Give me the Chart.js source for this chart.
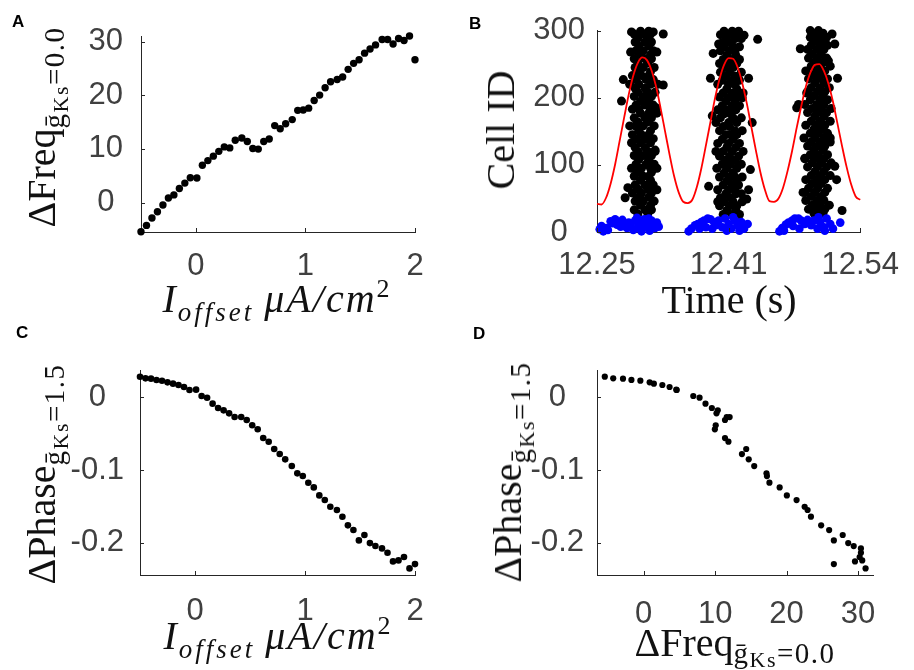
<!DOCTYPE html>
<html>
<head>
<meta charset="utf-8">
<script src="https://cdn.jsdelivr.net/npm/chart.js@4.4.1/dist/chart.umd.min.js"></script>
<style>
  body { margin: 0; background: #fff; }
  #fig { position: relative; width: 914px; height: 670px; overflow: hidden; }
  #fig canvas { position: absolute; }
  .lbl { position: absolute; font-family: 'Liberation Sans', Arial, sans-serif; font-weight: bold;
         font-size: 17px; line-height: 17px; color: #000; }
  .ttl { position: absolute; font-family: 'Liberation Serif', serif; font-size: 40px; line-height: 40px;
         color: #111; white-space: nowrap; }
  .vt { transform: translate(-50%, -50%) rotate(-90deg); }
  .ht { transform: translateX(-50%); }
  .sb { font-size: 29px; position: relative; top: 9px; letter-spacing: 1.5px; }
  .ssb { font-size: 22px; position: relative; top: 4px; }
  .it { font-style: italic; letter-spacing: 2px; }
  .sbi { font-style: italic; font-size: 27px; position: relative; top: 9px; letter-spacing: 3px; }
  .sup { font-size: 26px; position: relative; top: -15px; }
</style>
</head>
<body>
<div id="fig">
  <canvas id="chartA" width="457" height="335" style="left:0;top:0"></canvas>
  <canvas id="chartB" width="457" height="335" style="left:457px;top:0"></canvas>
  <canvas id="chartC" width="457" height="335" style="left:0;top:335px"></canvas>
  <canvas id="chartD" width="457" height="335" style="left:457px;top:335px"></canvas>

  <div class="lbl" style="left:12px;top:13px">A</div>
  <div class="lbl" style="left:469px;top:15px">B</div>
  <div class="lbl" style="left:16px;top:324px">C</div>
  <div class="lbl" style="left:473px;top:325px">D</div>

  <div class="ttl vt" style="left:45px;top:127px">&Delta;Freq<span class="sb">&#x1E21;<span class="ssb">Ks</span>=0.0</span></div>
  <div class="ttl ht" style="left:276px;top:279px"><span class="it">I</span><span class="sbi">offset</span>&nbsp;<span class="it">&mu;A/cm</span><span class="sup">2</span></div>

  <div class="ttl vt" style="left:501px;top:130px">Cell ID</div>
  <div class="ttl ht" style="left:729px;top:280px">Time (s)</div>

  <div class="ttl vt" style="left:45px;top:474px">&Delta;Phase<span class="sb">&#x1E21;<span class="ssb">Ks</span>=1.5</span></div>
  <div class="ttl ht" style="left:277px;top:616px"><span class="it">I</span><span class="sbi">offset</span>&nbsp;<span class="it">&mu;A/cm</span><span class="sup">2</span></div>

  <div class="ttl vt" style="left:511px;top:472px">&Delta;Phase<span class="sb">&#x1E21;<span class="ssb">Ks</span>=1.5</span></div>
  <div class="ttl ht" style="left:735px;top:623px">&Delta;Freq<span class="sb" style="top:7px">&#x1E21;<span class="ssb">Ks</span>=0.0</span></div>
</div>

<script>
// offset current (uA/cm2) shared by panels A and C
const currentOffset = [-0.50, -0.45, -0.40, -0.35, -0.30, -0.25, -0.20, -0.15, -0.10, -0.05,
  0.01, 0.06, 0.11, 0.16, 0.21, 0.26, 0.31, 0.36, 0.42, 0.47,
  0.52, 0.57, 0.62, 0.67, 0.72, 0.77, 0.82, 0.88, 0.93, 0.98,
  1.03, 1.08, 1.13, 1.18, 1.23, 1.29, 1.34, 1.39, 1.44, 1.49,
  1.54, 1.59, 1.64, 1.70, 1.75, 1.80, 1.85, 1.90, 1.95, 2.00];

// panel A: frequency change
const deltaFreq = [-5.45, -4.27, -2.90, -1.72, -0.47, 0.83, 1.42, 2.61, 3.62, 4.62,
  4.56, 6.94, 7.82, 8.65, 9.54, 10.37, 10.19, 11.62, 12.03, 11.38,
  10.08, 9.96, 11.38, 11.86, 14.35, 13.75, 14.70, 15.47, 17.19, 17.25,
  17.60, 19.03, 20.04, 21.40, 22.53, 22.94, 23.41, 24.84, 25.96, 26.62,
  27.86, 28.63, 29.40, 30.41, 30.41, 29.58, 30.59, 30.23, 31.06, 26.62];

// panel C: phase change
const deltaPhase = [0.0284, 0.0261, 0.0257, 0.0239, 0.0229, 0.0206, 0.0188, 0.0170, 0.0142, 0.0101,
  0.0106, 0.0018, -0.0005, -0.0087, -0.0147, -0.0179, -0.0220, -0.0271, -0.0271, -0.0312,
  -0.0385, -0.0440, -0.0560, -0.0610, -0.0711, -0.0780, -0.0853, -0.0945, -0.1046, -0.1083,
  -0.1174, -0.1239, -0.1349, -0.1413, -0.1505, -0.1550, -0.1642, -0.1761, -0.1826, -0.1968,
  -0.1894, -0.2005, -0.2046, -0.2078, -0.2138, -0.2257, -0.2243, -0.2197, -0.2353, -0.2294];

// panel B: population rate (red line)
const rateTimes = [12.250, 12.255, 12.260, 12.265, 12.270, 12.275, 12.280, 12.285, 12.290, 12.295,
  12.300, 12.305, 12.310, 12.315, 12.320, 12.325, 12.330, 12.335, 12.340, 12.345,
  12.350, 12.355, 12.360, 12.365, 12.370, 12.375, 12.380, 12.385, 12.390, 12.395,
  12.400, 12.405, 12.410, 12.415, 12.420, 12.425, 12.430, 12.435, 12.440, 12.445,
  12.450, 12.455, 12.460, 12.465, 12.470, 12.475, 12.480, 12.485, 12.490, 12.495,
  12.500, 12.505, 12.510, 12.515, 12.520, 12.525, 12.530, 12.535, 12.540];
const rateValues = [42, 41, 51, 72, 101, 136, 171, 205, 233, 252,
  260, 256, 241, 217, 185, 150, 115, 83, 59, 45,
  43, 48, 67, 95, 129, 164, 199, 228, 249, 259,
  258, 245, 222, 192, 157, 122, 89, 63, 46, 45,
  50, 66, 91, 121, 155, 187, 216, 237, 249, 250,
  240, 221, 194, 161, 128, 97, 71, 53, 48];

// panel B: burst centres (s); each row is [cell, spike offsets in ms...]
const burstCenters = [12.301, 12.396, 12.493];
const burst1 = [
  [27, -6, 5], [33, -10, 2, 9], [40, -3, 8], [46, -9, 0, 12], [52, -5, 6], [58, -12, -2, 9],
  [64, -6, 5], [70, -9, 2, 11], [77, -3, 8], [83, -10, 0, 6], [89, -6, 9], [95, -13, -2, 8],
  [101, -8, 3, 12], [108, -5, 6], [114, -10, 0, 9], [120, -6, 5, 13], [126, -9, 2], [133, -13, -3, 8],
  [139, -8, 3, 11], [145, -12, -2, 6], [151, -5, 8], [158, -9, 0, 12], [164, -6, 5], [170, -10, 2, 9],
  [177, -3, 6, 15], [183, -12, -5, 8], [189, -8, 2, 11], [195, -3, 6], [202, -10, 0, 9], [208, -6, 5, 13],
  [214, -9, 2], [220, -15, -5, 8], [227, -8, 3, 11], [233, -12, -2, 6], [239, -5, 8], [245, -9, 0, 12],
  [252, -6, 5], [258, -10, 2, 9], [264, -3, 8], [270, -8, 0, 11], [277, -5, 6], [283, -9, 2, 9],
  [289, -6, 5], [295, -10, 0, 8], [299, -3, 6],
  [295, 22], [195, -24], [227, -22], [51, -20], [66, -17], [220, 16], [219, 22], [268, 15],
  [268, -14], [185, 14], [122, 13], [95, 15], [63, 15], [158, -15], [298, -13], [298, 11]
];
const burst2 = [
  [26, -7, 3, 11], [32, -3, 7], [39, -11, 0, 8], [45, -6, 4, 14], [51, -10, 1], [57, -4, 7, 13],
  [63, -13, -1, 6], [70, -7, 3, 10], [76, -3, 8], [82, -11, 0, 6, 14], [88, -6, 4], [95, -14, -3, 8],
  [101, -8, 1, 13], [107, -4, 6], [113, -11, 0, 10], [120, -7, 3, 15], [126, -3, 7], [132, -13, -1, 11],
  [138, -8, 4], [145, -4, 1, 8], [151, -11, 6, 14], [157, -7, 0], [163, -15, -1, 8], [170, -10, 4, 13],
  [176, -6, 1], [182, -13, -3, 7], [188, -8, 3, 11], [195, -4, 6], [201, -11, 0, 10], [207, -7, 4, 15],
  [213, -3, 8], [220, -13, -1, 6], [226, -8, 3, 11], [232, -4, 7], [238, -10, 0, 13], [245, -6, 4],
  [251, -11, -1, 8], [257, -7, 3, 11], [263, -3, 7], [270, -10, 0, 6], [276, -6, 4, 11], [282, -8, 1],
  [288, -4, 6, 13], [294, -10, 0, 7], [299, -6, 3, 10],
  [287, 31], [229, -21], [173, -19], [68, -23], [163, 25], [93, 23], [63, 21], [49, 19],
  [229, 21], [280, -12], [293, 16], [266, -18], [120, -15], [200, 14], [45, -13]
];
const burst3 = [
  [28, -4, 6], [34, -10, 0, 8], [40, -6, 3, 13], [47, -13, -1, 7], [53, -7, 4], [59, -14, -3, 8],
  [65, -10, 0, 11], [72, -6, 4], [78, -13, -1, 8], [84, -7, 3, 14], [90, -3, 7], [97, -11, 0, 10],
  [103, -6, 4, 15], [109, -14, -3, 7], [115, -8, 1, 11], [122, -4, 6], [128, -11, 0, 8], [134, -7, 3, 14],
  [140, -15, -3, 7], [147, -8, 1, 11], [153, -4, 6], [159, -13, -1, 8], [165, -7, 3, 14], [172, -3, 7],
  [178, -11, 0, 10], [184, -6, 4, 15], [190, -14, -1, 7], [197, -8, 3, 11], [203, -4, 6], [209, -11, 0, 8],
  [215, -7, 3, 13], [222, -3, 7], [228, -10, 0, 11], [234, -6, 4], [240, -13, -1, 8], [247, -7, 3, 14],
  [253, -3, 7], [259, -10, 0, 10], [265, -6, 4], [272, -11, -1, 7], [278, -7, 3, 11], [284, -3, 6],
  [290, -8, 1, 10], [296, -4, 6], [300, -8, 1],
  [273, -19], [190, -21], [185, -23], [280, 19], [229, 22], [98, 19], [78, 21], [32, 27],
  [295, 16], [207, -12], [59, -16], [140, 14], [110, -14], [255, 12]
];

// panel B: low-index cells (blue), [time s, cell]
const blueSpikes = [
  [12.253, 4], [12.255, 9], [12.257, 1], [12.260, 6], [12.262, 3], [12.265, 16], [12.267, 13],
  [12.270, 19], [12.272, 11], [12.274, 15], [12.276, 8], [12.278, 18], [12.280, 12], [12.283, 6],
  [12.285, 14], [12.287, 9], [12.290, 3], [12.292, 17], [12.294, 21], [12.296, 11], [12.298, 5],
  [12.300, 15], [12.302, 19], [12.304, 8], [12.306, 13], [12.308, 2], [12.310, 17], [12.312, 10],
  [12.314, 6], [12.316, 14], [12.318, 8], [12.299, 1], [12.295, 7], [12.307, 20],
  [12.351, 1], [12.354, 5], [12.358, 10], [12.361, 12], [12.365, 15], [12.368, 17], [12.372, 20],
  [12.375, 19], [12.379, 15], [12.363, 5], [12.370, 7], [12.377, 5], [12.381, 10], [12.384, 17],
  [12.388, 7], [12.391, 20], [12.395, 12], [12.398, 5], [12.402, 17], [12.405, 10], [12.409, 15],
  [12.412, 5], [12.416, 12], [12.400, 22], [12.407, 2], [12.393, 2],
  [12.451, 1], [12.454, 6], [12.458, 11], [12.461, 14], [12.465, 17], [12.468, 20], [12.472, 20],
  [12.475, 17], [12.479, 12], [12.456, 2], [12.466, 9], [12.473, 5], [12.482, 18], [12.486, 10],
  [12.489, 17], [12.493, 5], [12.496, 15], [12.500, 7], [12.503, 20], [12.507, 12], [12.510, 5],
  [12.494, 22], [12.501, 2], [12.518, 14]
];

// ticks
const ticksOffset = [0, 1, 2];
const ticksFreq = [0, 10, 20, 30];
const ticksPhase = [-0.2, -0.1, 0];
const ticksPhaseLabels = ['-0.2', '-0.1', '0'];
const ticksCell = [0, 100, 200, 300];
const ticksTime = [12.25, 12.395, 12.54];
const ticksTimeLabels = ['12.25', '12.41', '12.54'];

const axisColor = '#262626';
const tickColor = '#404040';
const tickFont = { family: "'Liberation Sans', Arial, sans-serif", size: 31 };

// matlab style ticks pointing into the plot
const inwardTicks = {
    id: 'inwardTicks',
    afterDatasetsDraw(chart) {
        const ctx = chart.ctx;
        const area = chart.chartArea;
        const xs = chart.scales.x;
        const ys = chart.scales.y;
        ctx.save();
        ctx.strokeStyle = axisColor;
        ctx.lineWidth = 1;
        ctx.beginPath();
        xs.ticks.forEach(t => {
            const px = Math.round(xs.getPixelForValue(t.value)) + 0.5;
            ctx.moveTo(px, area.bottom);
            ctx.lineTo(px, area.bottom - 4);
        });
        ys.ticks.forEach(t => {
            const py = Math.round(ys.getPixelForValue(t.value)) + 0.5;
            ctx.moveTo(area.left, py);
            ctx.lineTo(area.left + 4, py);
        });
        ctx.stroke();
        ctx.restore();
    }
};

function axis(min, max, values, labels, pad, fitSize, isY) {
    return {
        type: 'linear',
        min: min,
        max: max,
        grid: { display: false, drawTicks: false },
        border: { display: true, color: axisColor, width: 1 },
        afterBuildTicks: scale => { scale.ticks = values.map(v => ({ value: v })); },
        afterFit: scale => { if (isY) { scale.width = fitSize; } else { scale.height = fitSize; } },
        ticks: {
            color: tickColor,
            font: tickFont,
            padding: pad,
            maxRotation: 0,
            autoSkip: false,
            crossAlign: isY ? 'center' : 'near',
            callback: (value, index) => labels ? labels[index] : String(value)
        }
    };
}

function baseOptions(padTop, padRight, xAxis, yAxis) {
    return {
        responsive: false,
        animation: false,
        devicePixelRatio: 1,
        events: [],
        layout: { padding: { top: padTop, right: padRight, left: 0, bottom: 0 } },
        plugins: { legend: { display: false }, tooltip: { enabled: false } },
        scales: { x: xAxis, y: yAxis }
    };
}

function dots(data, color, radius) {
    return {
        type: 'scatter',
        data: data,
        pointRadius: radius,
        pointHoverRadius: radius,
        pointBackgroundColor: color,
        pointBorderWidth: 0,
        showLine: false,
        clip: false
    };
}

// panel A
new Chart(document.getElementById('chartA'), {
    type: 'scatter',
    data: { datasets: [dots(currentOffset.map((x, i) => ({ x: x, y: deltaFreq[i] })), '#000', 3.7)] },
    options: baseOptions(27, 42,
        axis(-0.5, 2.0, ticksOffset, null, 16, 103, false),
        axis(-5.5, 30.95, ticksFreq, null, 18, 141, true)),
    plugins: [inwardTicks]
});

// panel B
const blackSpikes = [];
[burst1, burst2, burst3].forEach((rows, b) => {
    rows.forEach(row => {
        row.slice(1).forEach(ms => blackSpikes.push({ x: burstCenters[b] + ms / 1000, y: row[0] }));
    });
});
new Chart(document.getElementById('chartB'), {
    type: 'scatter',
    data: {
        datasets: [
            {
                type: 'line',
                data: rateTimes.map((t, i) => ({ x: t, y: rateValues[i] })),
                borderColor: '#ff0000',
                borderWidth: 1.8,
                pointRadius: 0,
                fill: false,
                cubicInterpolationMode: 'monotone',
                clip: false
            },
            dots(blueSpikes.map(p => ({ x: p[0], y: p[1] })), '#0000ff', 4.3),
            dots(blackSpikes, '#000', 4.5)
        ]
    },
    options: baseOptions(27, 41,
        axis(12.25, 12.54, ticksTime, ticksTimeLabels, 15, 103, false),
        axis(0, 300, ticksCell, null, 12, 140, true)),
    plugins: [inwardTicks]
});

// panel C
new Chart(document.getElementById('chartC'), {
    type: 'scatter',
    data: { datasets: [dots(currentOffset.map((x, i) => ({ x: x, y: deltaPhase[i] })), '#000', 3.3)] },
    options: baseOptions(35, 42,
        axis(-0.5, 2.0, ticksOffset, null, 18, 95, false),
        axis(-0.2444, 0.0376, ticksPhase, ticksPhaseLabels, 16, 140, true)),
    plugins: [inwardTicks]
});

// panel D: phase change against frequency change
new Chart(document.getElementById('chartD'), {
    type: 'scatter',
    data: { datasets: [dots(deltaFreq.map((f, i) => ({ x: f, y: deltaPhase[i] })), '#000', 3.1)] },
    options: baseOptions(35, 41,
        axis(-6.54, 32.1, ticksFreq, null, 21, 95, false),
        axis(-0.2444, 0.0376, ticksPhase, ticksPhaseLabels, 13, 140, true)),
    plugins: [inwardTicks]
});
</script>
</body>
</html>
